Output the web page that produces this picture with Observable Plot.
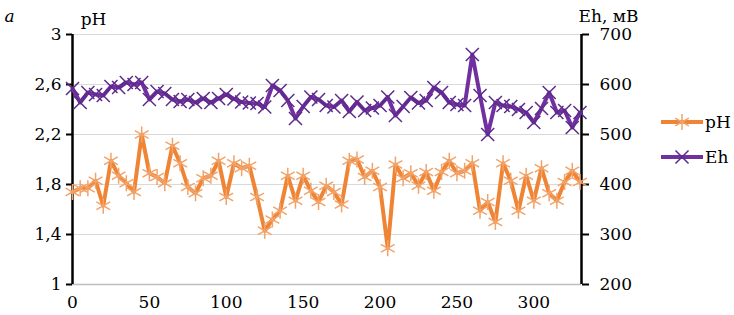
<!DOCTYPE html>
<html>
<head>
<meta charset="utf-8">
<script src="https://cdn.jsdelivr.net/npm/d3@7"></script>
<script src="https://cdn.jsdelivr.net/npm/@observablehq/plot@0.6"></script>
<style>
  body { margin: 0; background: white; }
  #wrap { position: relative; width: 734px; height: 315px; }
  #wrap svg, #wrap svg text { font-family: "DejaVu Serif", "Liberation Serif", serif !important; }
  #legend { position: absolute; left: 0; top: 0; pointer-events: none; }
</style>
</head>
<body>
<div id="wrap"></div>
<script>
// Sampling positions (x axis)
const tValues = d3.range(0, 331, 5);

// pH series
const phValues = [
  1.74, 1.77, 1.77, 1.83, 1.63, 1.99, 1.87, 1.81, 1.74, 2.20,
  1.89, 1.86, 1.81, 2.11, 1.97, 1.78, 1.73, 1.85, 1.87, 1.99,
  1.70, 1.97, 1.93, 1.95, 1.70, 1.43, 1.52, 1.59, 1.87, 1.67,
  1.87, 1.75, 1.66, 1.79, 1.74, 1.64, 1.99, 2.00, 1.86, 1.91,
  1.78, 1.29, 1.96, 1.85, 1.89, 1.79, 1.90, 1.75, 1.90, 1.99,
  1.89, 1.91, 1.97, 1.59, 1.66, 1.50, 1.97, 1.83, 1.59, 1.87,
  1.67, 1.93, 1.73, 1.67, 1.82, 1.91, 1.82
];

// Eh series, mV
const ehValues = [
  592, 564, 584, 580, 578, 596, 594, 604, 600, 604,
  570, 586, 582, 570, 566, 570, 564, 572, 564, 572,
  580, 571, 565, 563, 562, 555, 598, 588, 568, 532,
  556, 575, 570, 558, 555, 568, 546, 565, 548, 553,
  558, 575, 538, 556, 574, 563, 568, 594, 584, 564,
  560, 558, 660, 578, 500, 564, 558, 556, 550, 544,
  524, 552, 584, 544, 548, 514, 544
];

const xTicks = [0, 50, 100, 150, 200, 250, 300];
const phTicks = [1, 1.4, 1.8, 2.2, 2.6, 3];
const ehTicks = [200, 300, 400, 500, 600, 700];
const seriesNames = ["pH", "Eh"];

const orange = "#EF8434";
const orangeMark = "#F2A36A";
const purple = "#7030A0";
const purpleMark = "#5E2A8C";

const serif = "'DejaVu Serif', 'Liberation Serif', serif";
const fs = 17;

// Map Eh onto the pH scale (200..700 mV <-> 1..3)
const ehToPh = e => 1 + (e - 200) / 250;
const phToEh = p => Math.round(200 + (p - 1) * 250);

const data = tValues.map((t, i) => ({t, ph: phValues[i], eh: ehValues[i], ehp: ehToPh(ehValues[i])}));
const xMax = 331;

const fmt = d => String(d).replace(".", ",");

const chart = Plot.plot({
  width: 734,
  height: 315,
  marginLeft: 72,
  marginRight: 153,
  marginTop: 34,
  marginBottom: 31,
  style: `font-family: ${serif}; font-size: ${fs}px; color: black; background: white; overflow: visible;`,
  x: {domain: [0, xMax]},
  y: {domain: [1, 3]},
  marks: [
    Plot.ruleY(phTicks.slice(1), {stroke: "#d9d9d9", strokeWidth: 1.2}),
    Plot.ruleY([1], {stroke: "#bfbfbf", strokeWidth: 1.5}),
    Plot.axisX({ticks: xTicks, tickSize: 0, tickPadding: 11, label: null, fontSize: fs}),
    Plot.axisY({ticks: phTicks, tickFormat: fmt, tickSize: 6, tickPadding: 5, strokeWidth: 2, label: null, fontSize: fs}),
    Plot.axisY({anchor: "right", ticks: ehTicks.map(ehToPh), tickFormat: phToEh, tickSize: 7, tickPadding: 11, strokeWidth: 2, label: null, fontSize: fs}),
    Plot.ruleX([0], {stroke: "black", strokeWidth: 2.5}),
    Plot.ruleX([xMax], {stroke: "black", strokeWidth: 2.5}),
    Plot.line(data, {x: "t", y: "ph", stroke: orange, strokeWidth: 4, strokeLinejoin: "round"}),
    Plot.dot(data, {x: "t", y: "ph", symbol: "asterisk", stroke: orangeMark, r: 7.5, strokeWidth: 1.5}),
    Plot.line(data, {x: "t", y: "ehp", stroke: purple, strokeWidth: 4, strokeLinejoin: "round"}),
    Plot.dot(data, {x: "t", y: "ehp", symbol: "times", stroke: purpleMark, r: 6, strokeWidth: 1.5}),
    Plot.text(["pH"], {frameAnchor: "top-left", dx: 21, dy: -22, textAnchor: "middle", fontSize: fs, fontFamily: serif}),
    Plot.text(["Eh, мВ"], {frameAnchor: "top-right", dx: 27, dy: -25, textAnchor: "middle", fontSize: fs, fontFamily: serif}),
    Plot.text(["а"], {frameAnchor: "top-left", dx: -68, dy: -25, textAnchor: "start", fontSize: fs, fontStyle: "italic", fontFamily: serif})
  ]
});

const wrap = document.getElementById("wrap");
wrap.appendChild(chart);

// Legend (overlay on the right side)
const legend = d3.select(wrap).append("svg")
  .attr("id", "legend")
  .attr("width", 734).attr("height", 315);
const legendItems = [
  {name: seriesNames[0], color: orange, mark: orangeMark, symbol: d3.symbolAsterisk, size: Math.PI * 56, y: 122},
  {name: seriesNames[1], color: purple, mark: purpleMark, symbol: d3.symbolTimes, size: Math.PI * 36, y: 157}
];
legendItems.forEach(it => {
  const g = legend.append("g");
  g.append("line").attr("x1", 661).attr("x2", 703).attr("y1", it.y).attr("y2", it.y)
    .attr("stroke", it.color).attr("stroke-width", 4);
  g.append("path").attr("transform", `translate(682,${it.y})`)
    .attr("d", d3.symbol(it.symbol, it.size)())
    .attr("fill", "none").attr("stroke", it.mark).attr("stroke-width", 1.5);
  g.append("text").attr("x", 705).attr("y", it.y).attr("dy", "0.35em")
    .attr("font-family", serif).attr("font-size", fs).text(it.name);
});
</script>
</body>
</html>
